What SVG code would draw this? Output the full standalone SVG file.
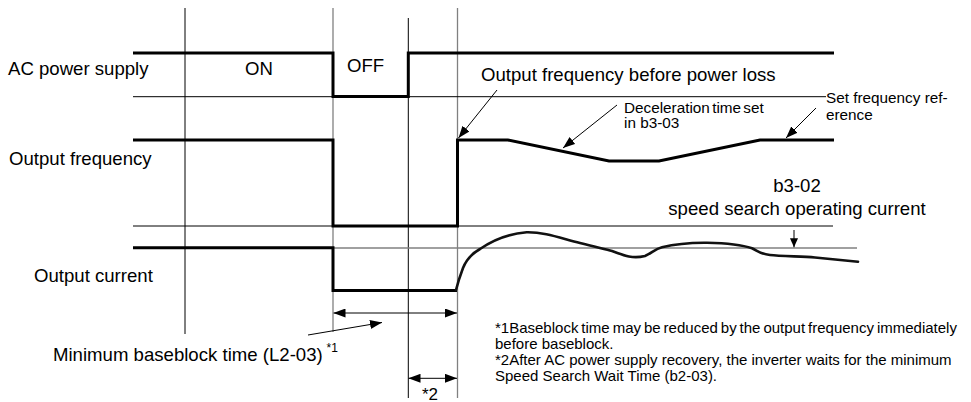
<svg xmlns="http://www.w3.org/2000/svg" width="971" height="402" viewBox="0 0 971 402">
<defs>
<style>
.t{font-family:"Liberation Sans",Arial,sans-serif;fill:#000}
.lg{font-size:18.6px}
.sm{font-size:15.3px}
.fn{font-size:15px}
.thin{stroke:#000;stroke-width:1;fill:none}
.gray{stroke:#808080;stroke-width:1.3;fill:none}
.thick{stroke:#000;stroke-width:3;fill:none;stroke-linejoin:miter}
.curve{stroke:#111;stroke-width:2.6;fill:none;stroke-linecap:round;stroke-linejoin:round}
.lead{stroke:#000;stroke-width:1;fill:none}
</style>
<marker id="ah" markerUnits="userSpaceOnUse" markerWidth="12" markerHeight="9" refX="12" refY="4.5" orient="auto-start-reverse">
<path d="M0,0 L12,4.5 L0,9 z" fill="#000"/>
</marker>
<marker id="ahs" markerUnits="userSpaceOnUse" markerWidth="9" markerHeight="8" refX="9" refY="4" orient="auto">
<path d="M0,0 L9,4 L0,8 z" fill="#000"/>
</marker>
</defs>
<rect width="971" height="402" fill="#fff"/>

<g id="grid">
<line class="thin" x1="185" y1="8" x2="185" y2="334"/>
<line class="gray" x1="333" y1="8" x2="333" y2="332"/>
<line class="thin" x1="408.3" y1="18" x2="408.3" y2="398"/>
<line class="gray" x1="457.5" y1="8" x2="457.5" y2="398"/>
<line class="thin" x1="133" y1="96.7" x2="826" y2="96.7"/>
<line class="thin" x1="133" y1="226" x2="833" y2="226"/>
<line class="gray" x1="333" y1="248" x2="857" y2="248"/>
</g>

<g id="ac-power-supply">
<path class="thick" d="M133,53 H333 V96.5 H408.3 V53 H834"/>
<text class="t lg" x="8" y="75">AC power supply</text>
<text class="t lg" x="245" y="75">ON</text>
<text class="t lg" x="347" y="71.7">OFF</text>
</g>

<g id="output-frequency">
<path class="thick" d="M133,140 H333 V226 H457.5 V140 H508 L609,161 H659 L760,140 H834"/>
<text class="t lg" x="9" y="165">Output frequency</text>
</g>

<g id="output-current">
<path class="thick" d="M133,247.7 H333 V290.5 H457"/>
<path class="curve" d="M456,290 C458,282 460,276 463,268 C467,258 473,253 480,249 C490,242 505,234 526.7,232.3 C545,232 560,238 580,243 C595,247 605,249 612,251 C625,256 633,259 645,256 C652,253 655,249 662,247.3 C675,244 690,242.5 707,242.7 C725,243 740,244 752,248.3 C758,251 760,254 770,255 C780,256 800,256.5 815,257.5 C830,259 845,260.5 858,261.7"/>
<text class="t lg" x="34" y="281.7">Output current</text>
</g>

<g id="labels">
<text class="t lg" x="481" y="81">Output frequency before power loss</text>
<text class="t sm" x="624" y="112.5" word-spacing="-2">Deceleration time set</text>
<text class="t sm" x="624" y="128">in b3-03</text>
<text class="t sm" x="826" y="103">Set frequency ref-</text>
<text class="t sm" x="826" y="119.5">erence</text>
<text class="t lg" x="797" y="192.3" text-anchor="middle">b3-02</text>
<text class="t lg" x="797" y="215" text-anchor="middle">speed search operating current</text>
<text class="t lg" x="53" y="361">Minimum baseblock time (L2-03)</text>
<text class="t" x="326.5" y="351.5" font-size="12">*1</text>
<text class="t" x="422" y="399.5" font-size="17">*2</text>
</g>

<g id="notes">
<text class="t fn" x="495" y="332.5" word-spacing="-1.2">*1Baseblock time may be reduced by the output frequency immediately</text>
<text class="t fn" x="495" y="348.5">before baseblock.</text>
<text class="t fn" x="495" y="364.5">*2After AC power supply recovery, the inverter waits for the minimum</text>
<text class="t fn" x="495" y="380.5">Speed Search Wait Time (b2-03).</text>
</g>

<g id="connectors">
<line class="lead" x1="497" y1="90" x2="458.5" y2="138" marker-end="url(#ah)"/>
<line class="lead" x1="617" y1="105" x2="563" y2="148" marker-end="url(#ah)"/>
<line class="lead" x1="816" y1="108" x2="786" y2="138" marker-end="url(#ah)"/>
<line class="lead" x1="794" y1="230" x2="794" y2="247.3" marker-end="url(#ahs)"/>
<line class="lead" x1="333.5" y1="313" x2="457" y2="313" marker-start="url(#ah)" marker-end="url(#ah)"/>
<line class="lead" x1="408.5" y1="378.3" x2="457" y2="378.3" marker-start="url(#ah)" marker-end="url(#ah)"/>
<line class="lead" x1="308" y1="335" x2="382" y2="322.5" marker-end="url(#ah)"/>
</g>
</svg>
